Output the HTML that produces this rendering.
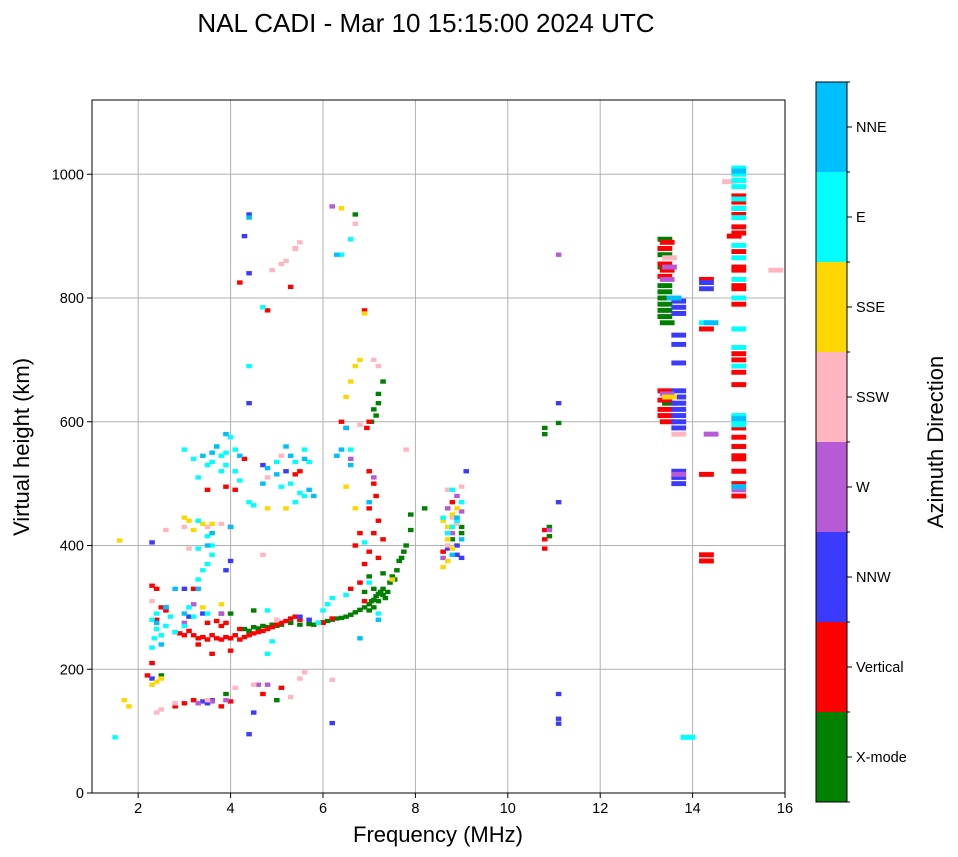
<!DOCTYPE html>
<html><head><meta charset="utf-8"><style>
html,body{margin:0;padding:0;background:#fff;}
svg{display:block;font-family:"Liberation Sans","DejaVu Sans",sans-serif;}
</style></head><body>
<svg id="chart" width="958" height="857" viewBox="0 0 958 857" xmlns="http://www.w3.org/2000/svg">
<text x="426" y="32" font-size="26" text-anchor="middle">NAL CADI - Mar 10 15:15:00 2024 UTC</text>
<g id="grid"></g>
<g id="cells"></g>
<rect x="92" y="100" width="693" height="693" fill="none" stroke="#000" stroke-width="1"/>
<g id="axes"></g>
<text x="438" y="842" font-size="22" text-anchor="middle">Frequency (MHz)</text>
<text transform="translate(29,447) rotate(-90)" font-size="22" text-anchor="middle">Virtual height (km)</text>
<g id="cbar"></g>
<text transform="translate(943,442) rotate(-90)" font-size="22" text-anchor="middle">Azimuth Direction</text>
</svg>
<script>
const directionNames = ["X-mode","Vertical","NNW","W","SSW","SSE","E","NNE"];
const directionColors = ["#008000","#ff0000","#3b3bff","#b65ad6","#ffb6c1","#ffd700","#00ffff","#00bfff"];
const xTicks = [2,4,6,8,10,12,14,16];
const yTicks = [0,200,400,600,800,1000];

const xmode = [[4.3,265],[4.4,262],[4.5,268],[4.6,266],[4.7,270],[4.8,268],[4.9,272],[5.0,270],[5.1,272],[5.3,275],[5.5,272],[5.7,273],[5.8,272],[5.9,275],[6.0,276],[6.1,278],[6.2,280],[6.3,282],[6.4,283],[6.5,285],[6.6,288],[6.7,292],[6.8,296],[6.9,300],[7.0,305],[7.05,310],[7.1,312],[7.15,318],[7.2,322],[7.25,325],[7.3,320],[7.35,315],[7.0,295],[7.1,300],[7.2,310],[7.3,330],[7.4,325],[7.45,340],[7.5,350],[7.55,345],[7.6,360],[7.65,375],[7.7,380],[7.75,390],[7.8,400],[7.9,425],[7.3,355],[7.1,330],[6.9,325],[7.0,350],[7.2,630],[7.1,620],[7.2,645],[7.3,665],[7.05,600],[7.15,610],[8.2,460],[7.9,450],[6.7,935],[4.5,295],[4.0,290],[5.0,150],[9.0,430],[9.0,420],[8.8,410],[10.8,590],[10.8,580],[11.1,598],[10.9,415],[10.9,430],[13.4,780],[13.4,770],[13.4,790],[13.4,800],[13.4,810],[13.4,820],[13.45,760],[13.4,850],[13.4,870],[13.4,895],[13.5,630],[13.5,640],[3.9,160],[3.8,290],[2.5,190]];
const vertical = [[2.8,260],[2.9,258],[3.0,255],[3.1,262],[3.2,255],[3.3,250],[3.4,252],[3.5,248],[3.6,255],[3.7,250],[3.8,248],[3.9,252],[4.0,250],[4.1,255],[4.2,248],[4.3,252],[4.4,255],[4.5,258],[4.6,260],[4.7,262],[4.8,265],[4.9,268],[5.0,272],[5.1,275],[5.2,278],[5.3,282],[5.4,285],[5.5,280],[3.5,275],[3.7,278],[3.9,275],[4.2,265],[4.0,230],[3.8,270],[3.3,240],[2.5,300],[2.6,295],[2.4,330],[2.3,335],[2.4,280],[2.3,210],[2.2,190],[3.6,225],[3.2,150],[3.0,145],[2.8,140],[3.8,140],[4.0,148],[3.5,490],[3.9,495],[4.1,490],[4.0,430],[3.2,330],[5.5,520],[5.4,515],[4.2,825],[4.8,780],[5.3,818],[5.4,880],[4.3,540],[6.4,600],[6.5,590],[6.9,780],[7.0,600],[6.95,590],[7.0,520],[7.1,500],[7.15,480],[7.0,460],[7.2,440],[7.1,420],[7.3,410],[7.0,390],[7.2,380],[6.9,370],[6.8,340],[6.6,330],[6.9,310],[6.7,400],[6.8,420],[10.8,410],[10.8,395],[10.8,425],[8.8,470],[8.6,390],[13.4,620],[13.4,610],[13.4,635],[13.4,650],[13.45,600],[13.4,835],[13.45,845],[13.4,855],[13.4,880],[13.45,890],[14.3,830],[14.3,750],[14.3,385],[14.3,375],[14.3,515],[15.0,480],[15.0,500],[15.0,520],[15.0,545],[15.0,540],[15.0,560],[15.0,575],[15.0,590],[15.0,660],[15.0,680],[15.0,700],[15.0,710],[15.0,790],[15.0,815],[15.0,820],[15.0,845],[15.0,850],[15.0,875],[15.0,905],[15.0,915],[15.0,935],[15.0,945],[15.0,955],[15.0,965],[14.9,900],[4.7,160],[5.1,170],[6.0,275],[6.2,282]];
const nnw = [[2.3,405],[2.6,300],[3.0,330],[3.5,145],[3.4,148],[3.6,150],[3.1,285],[3.4,290],[4.0,375],[3.9,360],[4.4,935],[4.4,840],[4.3,900],[4.4,630],[4.4,95],[4.5,130],[5.5,285],[5.7,280],[5.2,520],[4.7,530],[6.2,113],[8.9,400],[8.9,385],[9.0,380],[8.7,395],[9.1,520],[11.1,630],[11.1,470],[11.1,160],[11.1,120],[11.1,112],[13.7,500],[13.7,510],[13.7,520],[13.7,600],[13.7,610],[13.7,620],[13.7,630],[13.7,640],[13.7,650],[13.7,590],[13.7,695],[13.7,725],[13.7,740],[13.7,775],[13.7,785],[13.7,795],[14.3,815],[14.3,825],[2.3,185]];
const west = [[3.3,145],[3.6,148],[3.9,150],[3.8,290],[3.0,275],[3.2,305],[4.8,175],[4.6,175],[6.2,948],[8.7,460],[8.9,480],[9.0,455],[8.8,420],[8.6,380],[11.1,870],[10.9,425],[13.45,645],[13.5,850],[13.45,830],[13.7,515],[14.4,580],[15.0,490],[7.1,510],[6.6,540]];
const ssw = [[2.4,130],[2.5,135],[2.3,310],[2.6,425],[3.0,430],[3.1,395],[3.5,430],[3.8,435],[4.7,385],[5.0,280],[5.5,890],[5.4,880],[5.2,860],[5.1,855],[4.9,845],[5.6,195],[5.5,185],[4.5,175],[4.1,170],[6.2,183],[5.3,155],[3.5,150],[2.8,145],[6.7,920],[7.1,700],[7.2,690],[8.7,490],[8.8,445],[8.9,435],[9.0,495],[8.7,400],[15.8,845],[14.8,988],[4.8,510],[5.1,545],[7.8,555],[6.8,595],[13.5,865],[13.7,580],[15.0,495]];
const sse = [[1.6,408],[1.7,150],[1.8,140],[2.4,180],[2.3,175],[2.5,185],[3.0,445],[3.1,440],[3.2,425],[3.4,435],[3.6,435],[3.8,305],[4.8,460],[5.2,460],[6.4,945],[6.9,775],[6.8,700],[6.7,690],[6.6,665],[6.5,640],[6.5,495],[6.7,460],[8.6,365],[8.7,375],[8.7,430],[8.6,440],[8.8,450],[8.9,460],[8.7,410],[8.8,395],[7.5,345],[3.4,300],[13.5,640]];
const east = [[1.5,90],[2.3,235],[2.35,250],[2.4,265],[2.3,280],[2.5,255],[2.4,290],[2.6,270],[2.7,285],[2.8,260],[3.0,270],[3.1,300],[3.2,285],[3.3,345],[3.4,360],[3.5,370],[3.3,395],[3.5,415],[3.6,385],[3.6,400],[3.5,290],[3.0,555],[3.2,540],[3.3,510],[3.5,530],[3.6,535],[3.8,545],[3.9,550],[4.1,555],[4.0,575],[3.8,520],[4.1,520],[3.9,530],[4.2,505],[3.7,560],[4.4,470],[4.5,465],[4.8,295],[4.9,245],[4.8,225],[5.1,495],[5.3,500],[5.5,485],[5.4,470],[5.6,480],[5.0,535],[5.4,535],[5.6,555],[5.7,535],[5.9,275],[6.0,295],[6.4,870],[6.6,895],[6.2,315],[6.5,320],[6.6,555],[6.9,405],[7.2,290],[7.0,340],[8.7,420],[8.8,430],[8.9,440],[9.0,470],[8.6,445],[8.8,490],[13.9,90],[14.3,760],[15.0,610],[15.0,595],[15.0,600],[15.0,1010],[15.0,1000],[15.0,990],[15.0,980],[15.0,960],[15.0,945],[15.0,930],[15.0,885],[15.0,865],[15.0,830],[15.0,800],[15.0,750],[15.0,720],[15.0,690],[4.4,690],[4.7,785],[6.1,305],[3.3,440]];
const nne = [[2.6,300],[3.7,560],[3.6,550],[3.4,545],[3.9,580],[4.2,545],[4.0,430],[3.5,400],[3.6,420],[3.3,330],[3.0,290],[2.4,275],[2.5,240],[2.8,330],[5.2,560],[5.6,540],[5.7,490],[5.8,480],[5.3,545],[6.3,870],[6.4,555],[6.3,545],[6.6,530],[6.5,590],[7.0,470],[7.2,280],[6.8,250],[4.8,525],[4.7,500],[9.0,410],[8.9,445],[8.8,385],[13.6,800],[14.4,760],[15.0,1005],[15.0,495],[15.0,605],[4.4,930],[5.0,515]];
const seriesByDirection = [xmode, vertical, nnw, west, ssw, sse, east, nne];

const X0=92, X1=785, Y0=793, Y1=100, FMIN=1, FMAX=16, HMIN=0, HMAX=1120;
function xScale(f){return X0+(f-FMIN)/(FMAX-FMIN)*(X1-X0);}
function yScale(h){return Y0-(h-HMIN)/(HMAX-HMIN)*(Y0-Y1);}
const NS="http://www.w3.org/2000/svg";
function mk(tag,attrs,parent){const e=document.createElementNS(NS,tag);for(const k in attrs)e.setAttribute(k,attrs[k]);parent.appendChild(e);return e;}

const grid=document.getElementById('grid'), axes=document.getElementById('axes'), cells=document.getElementById('cells'), cbar=document.getElementById('cbar');
xTicks.forEach(t=>{
  const x=xScale(t);
  const g=mk('line',{x1:x,x2:x,y1:Y1,y2:Y0,stroke:'#b0b0b0','stroke-width':1},grid);
  
  
  const tk=mk('line',{x1:x,x2:x,y1:Y0,y2:Y0+5,stroke:'#000'},axes);
  
  
  const tl=mk('text',{x:x,y:Y0+20,'font-size':14.5,'text-anchor':'middle'},axes);
  tl.textContent=t;
  
  
});
yTicks.forEach(t=>{
  const y=yScale(t);
  const g=mk('line',{x1:X0,x2:X1,y1:y,y2:y,stroke:'#b0b0b0','stroke-width':1},grid);
  
  
  const tk=mk('line',{x1:X0-5,x2:X0,y1:y,y2:y,stroke:'#000'},axes);
  
  
  const tl=mk('text',{x:X0-8,y:y+5,'font-size':14.5,'text-anchor':'end'},axes);
  tl.textContent=t;
  
  
});
seriesByDirection.forEach((pts,di)=>{
  pts.forEach(p=>{
    const f=p[0], h=p[1];
    const wide = f>=13;
    const w = wide ? 0.32 : 0.12;
    const hh = wide ? 8 : 7;
    const x=xScale(f-w/2), x2=xScale(f+w/2), y=yScale(h+hh/2), y2=yScale(h-hh/2);
    const r=mk('rect',{x:x,y:y,width:x2-x,height:y2-y,fill:directionColors[di]},cells);
    
    
  });
});
const CX=816, CW=31, CT=82, CB=802, seg=(CB-CT)/directionNames.length;
directionNames.forEach((n,i)=>{
  const y=CB-(i+1)*seg;
  const r=mk('rect',{x:CX,y:y,width:CW,height:seg,fill:directionColors[i]},cbar);
  
  
  const tk=mk('line',{x1:CX+CW,x2:CX+CW+5,y1:y+seg/2,y2:y+seg/2,stroke:'#000'},cbar);
  
  
  const tl=mk('text',{x:CX+CW+9,y:y+seg/2+5,'font-size':14.5},cbar);
  tl.textContent=n;
  
  
});
for(let i=0;i<=directionNames.length;i++){
  const y=CB-i*seg;
  const b=mk('line',{x1:CX+CW,x2:CX+CW+3,y1:y,y2:y,stroke:'#000'},cbar);
  
  
}
const fr=mk('rect',{x:CX,y:CT,width:CW,height:CB-CT,fill:'none',stroke:'#000'},cbar);


</script>
</body></html>
